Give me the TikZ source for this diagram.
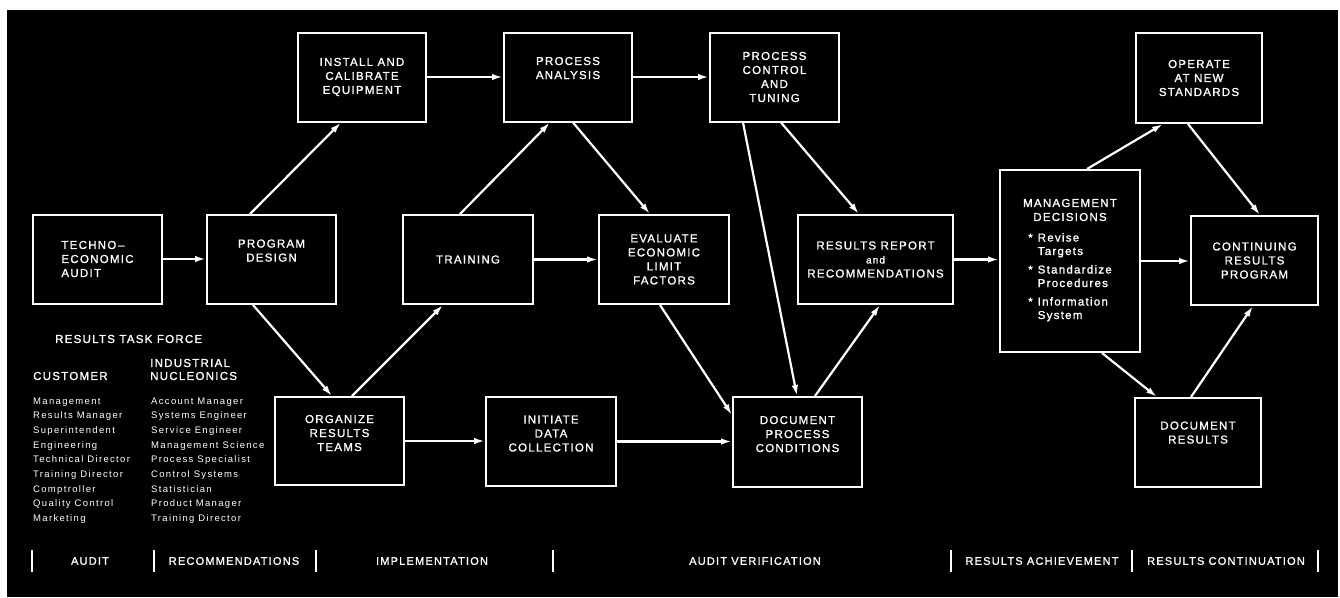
\documentclass[tikz,border=0pt]{standalone}
\usepackage{fontspec}
\setmainfont{Liberation Sans}[LetterSpace=11,FakeBold=1.2]
\newfontfamily\smallfont{Liberation Sans}[LetterSpace=14]
\usetikzlibrary{arrows.meta}
\begin{document}
\begin{tikzpicture}[x=1pt,y=-1pt,
  box/.style={draw=white, line width=2pt, text=white, inner sep=0pt,
    minimum width=129pt, minimum height=89pt, align=center,
    font=\fontsize{11.5}{14}\selectfont},
  arr/.style={draw=white, line width=2.2pt, -{Latex[length=11pt,width=6.5pt]}},
  lbl/.style={text=white, inner sep=0pt, font=\fontsize{11.5}{13}\selectfont},
  lst/.style={text=white, inner sep=0pt, align=left, font=\smallfont\fontsize{9.5}{14.65}\selectfont},
  phase/.style={text=white, inner sep=0pt, font=\fontsize{11}{13}\selectfont},
  bar/.style={draw=white, line width=2.5pt}
]
\useasboundingbox (0,0) rectangle (1340,597);
\fill[white] (0,0) rectangle (1340,597);
\fill[black] (7,10) rectangle (1338,597);

% boxes
\node[box, align=left] (audit) at (97.5,259) {TECHNO\,--\\ECONOMIC\\AUDIT};
\node[box] (prog) at (271.5,259.5) {PROGRAM\\DESIGN\\[4pt]};
\node[box, minimum width=128pt] (install) at (362,77) {INSTALL AND\\CALIBRATE\\EQUIPMENT};
\node[box, minimum width=130pt] (train) at (468,259.5) {TRAINING};
\node[box, minimum width=128pt] (panal) at (568,77) {PROCESS\\ANALYSIS\\[4pt]};
\node[box] (pctrl) at (774.5,77) {PROCESS\\CONTROL\\AND\\TUNING};
\node[box, minimum width=130pt] (eval) at (664,259.5) {EVALUATE\\ECONOMIC\\LIMIT\\FACTORS};
\node[box, minimum width=155pt] (report) at (875.5,259.5) {RESULTS REPORT\\{\fontsize{10}{14}\selectfont and}\\RECOMMENDATIONS};
\node[box, minimum width=140pt, minimum height=182pt] (mgmt) at (1070,261)
  {MANAGEMENT\\DECISIONS\\[10pt]
   {\fontsize{11.5}{13.5}\selectfont\begin{tabular}{@{}l@{\hspace{5pt}}l@{}}
   *&Revise\\ &Targets\\[5pt]
   *&Standardize\\ &Procedures\\[5pt]
   *&Information\\ &System
   \end{tabular}}};
\node[box, minimum width=126pt, minimum height=90pt] (operate) at (1199,78) {OPERATE\\AT NEW\\STANDARDS};
\node[box, minimum width=127pt] (cont) at (1254.5,260.5) {CONTINUING\\RESULTS\\PROGRAM};
\node[box, minimum width=126pt] (docres) at (1198,442.5) {DOCUMENT\\RESULTS\\[6pt]};
\node[box, minimum height=88pt] (organize) at (339.5,441) {ORGANIZE\\RESULTS\\TEAMS\\[2pt]};
\node[box, minimum width=130pt] (initiate) at (551,441.5) {INITIATE\\DATA\\COLLECTION\\[2pt]};
\node[box, minimum height=90pt] (docproc) at (797.5,442) {DOCUMENT\\PROCESS\\CONDITIONS\\[2pt]};

% connectors
\draw[arr] (audit.east) -- (audit.east -| prog.west);
\draw[arr] ([xshift=-21.5pt]prog.north) -- ([xshift=-21pt]install.south);
\draw[arr] ([xshift=-18.5pt]prog.south) -- ([xshift=-7.5pt]organize.north);
\draw[arr] ([xshift=12.5pt]organize.north) -- ([xshift=-25pt]train.south);
\draw[arr] (organize.east) -- (organize.east -| initiate.west);
\draw[arr] (initiate.east) -- (initiate.east -| docproc.west);
\draw[arr] ([xshift=-8pt]train.north) -- ([xshift=-18pt]panal.south);
\draw[arr] (train.east) -- (train.east -| eval.west);
\draw[arr] (install.east) -- (install.east -| panal.west);
\draw[arr] (panal.east) -- (panal.east -| pctrl.west);
\draw[arr] ([xshift=5pt]panal.south) -- ([xshift=-14pt]eval.north);
\draw[arr] ([xshift=-4pt]eval.south) -- ([yshift=-19pt]docproc.north west);
\draw[arr] ([xshift=-31.5pt]pctrl.south) -- ([xshift=-0.5pt]docproc.north);
\draw[arr] ([xshift=6.5pt]pctrl.south) -- ([xshift=-16.5pt]report.north);
\draw[arr] ([xshift=17.5pt]docproc.north) -- ([xshift=4.5pt]report.south);
\draw[arr] (report.east) -- (report.east -| mgmt.west);
\draw[arr] ([xshift=17pt]mgmt.north) -- ([xshift=-36pt]operate.south);
\draw[arr] ([xshift=-11pt]operate.south) -- ([xshift=5.5pt]cont.north);
\draw[arr] (mgmt.east) -- (mgmt.east -| cont.west);
\draw[arr] ([xshift=32pt]mgmt.south) -- ([xshift=-41pt]docres.north);
\draw[arr] ([xshift=-7pt]docres.north) -- ([xshift=-1.5pt]cont.south);

% task force
\node[lbl, anchor=west] (rtf) at (55,339) {RESULTS TASK FORCE};
\node[lbl, anchor=west] (cust) at (33,376) {CUSTOMER};
\node[lbl, anchor=west, align=left] (ind) at (150,369.5) {INDUSTRIAL\\NUCLEONICS};
\node[lst, anchor=north west] (clist) at (33,397.5) {Management\\Results Manager\\Superintendent\\Engineering\\Technical Director\\Training Director\\Comptroller\\Quality Control\\Marketing};
\node[lst, anchor=north west] (ilist) at (151,397.5) {Account Manager\\Systems Engineer\\Service Engineer\\Management Science\\Process Specialist\\Control Systems\\Statistician\\Product Manager\\Training Director};

% phases
\foreach \x/\n in {32/b1,154/b2,316/b3,553/b4,951/b5,1132/b6,1318/b7}
  \draw[bar] (\x,550) -- (\x,572);
\node[phase] (p1) at (90,561) {AUDIT};
\node[phase] (p2) at (234,561) {RECOMMENDATIONS};
\node[phase] (p3) at (432,561) {IMPLEMENTATION};
\node[phase] (p4) at (755,561) {AUDIT VERIFICATION};
\node[phase] (p5) at (1042,561) {RESULTS ACHIEVEMENT};
\node[phase] (p6) at (1226,561) {RESULTS CONTINUATION};
\end{tikzpicture}
\end{document}
